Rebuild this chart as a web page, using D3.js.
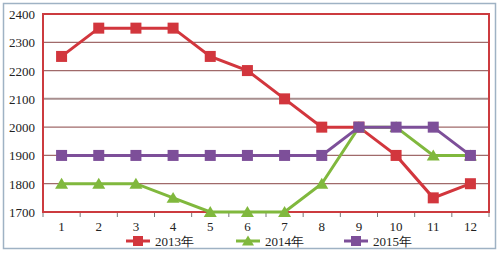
<!DOCTYPE html>
<html>
<head>
<meta charset="utf-8">
<script src="https://cdn.jsdelivr.net/npm/d3@7"></script>
<style>
  body { margin: 0; background: #fff; }
  text { font-family: "Liberation Serif", "DejaVu Serif", serif; font-size: 13px; fill: #222; }
</style>
</head>
<body>
<svg id="chart" width="500" height="253"></svg>
<script>
const months = [1, 2, 3, 4, 5, 6, 7, 8, 9, 10, 11, 12]
const yTicks = [1700, 1800, 1900, 2000, 2100, 2200, 2300, 2400]
const s2013 = [2250, 2350, 2350, 2350, 2250, 2200, 2100, 2000, 2000, 1900, 1750, 1800]
const s2014 = [1800, 1800, 1800, 1750, 1700, 1700, 1700, 1800, 2000, 2000, 1900, 1900]
const s2015 = [1900, 1900, 1900, 1900, 1900, 1900, 1900, 1900, 2000, 2000, 2000, 1900]

const series = [
    {name: '2013年', values: s2013, color: '#d2363d', shape: 'square'},
    {name: '2014年', values: s2014, color: '#80b83d', shape: 'triangle'},
    {name: '2015年', values: s2015, color: '#7d4f99', shape: 'square'}
]

const svg = d3.select('#chart')
const plotLeft = 43, plotRight = 489, plotTop = 14, plotBottom = 212

// outer frame
svg.append('rect')
    .attr('x', 3.5).attr('y', 3.5).attr('width', 492).attr('height', 245)
    .attr('fill', 'none').attr('stroke', '#9fb2c4').attr('stroke-width', 1.5)

const x = d3.scaleBand().domain(months).range([plotLeft, plotRight])
const y = d3.scaleLinear().domain([1700, 2400]).range([plotBottom, plotTop])

// grid
svg.append('g').selectAll('line')
    .data(yTicks.slice(1, -1))
    .enter().append('line')
        .attr('x1', plotLeft).attr('x2', plotRight)
        .attr('y1', (d) => y(d)).attr('y2', (d) => y(d))
        .attr('stroke', (d) => d === 2100 ? '#a88f8f' : '#a06a6a')
        .attr('stroke-width', (d) => d === 2100 ? 2 : 1.2)

// y labels
svg.append('g').selectAll('text')
    .data(yTicks)
    .enter().append('text')
        .attr('x', 35).attr('y', (d) => y(d) + 5)
        .attr('text-anchor', 'end')
        .text((d) => d)

// x axis ticks and labels
const xAxis = d3.axisBottom(x).tickSize(0).tickPadding(10)
const gx = svg.append('g').attr('transform', `translate(0,${plotBottom})`).call(xAxis)
gx.select('.domain').remove()
gx.selectAll('text').style('font-size', '13px').style('font-family', '"Liberation Serif", serif').attr('fill', '#222')
svg.append('g').selectAll('line')
    .data(months.concat([13]))
    .enter().append('line')
        .attr('x1', (d) => plotLeft + (d - 1) * x.step()).attr('x2', (d) => plotLeft + (d - 1) * x.step())
        .attr('y1', plotBottom).attr('y2', plotBottom + 5)
        .attr('stroke', '#777').attr('stroke-width', 1)

// plot border
svg.append('rect')
    .attr('x', plotLeft).attr('y', plotTop).attr('width', plotRight - plotLeft).attr('height', plotBottom - plotTop)
    .attr('fill', 'none').attr('stroke', '#cc3b3f').attr('stroke-width', 2)

const cx = (i) => x(months[i]) + x.bandwidth() / 2
const line = d3.line().x((d, i) => cx(i)).y((d) => y(d))

function marker(g, shape, color, px, py, size) {
    if (shape === 'square') {
        g.append('rect')
            .attr('x', px - size / 2).attr('y', py - size / 2)
            .attr('width', size).attr('height', size)
            .attr('fill', color)
    } else {
        const h = size * 0.9
        g.append('path')
            .attr('d', `M${px},${py - h / 2 - 1}L${px + size / 2 + 1},${py + h / 2}L${px - size / 2 - 1},${py + h / 2}Z`)
            .attr('fill', color)
    }
}

series.forEach((s) => {
    const g = svg.append('g')
    g.append('path')
        .attr('d', line(s.values))
        .attr('fill', 'none').attr('stroke', s.color).attr('stroke-width', 3)
    s.values.forEach((v, i) => marker(g, s.shape, s.color, cx(i), y(v), 11))
})

// legend
const legendX = [126, 236, 344]
series.forEach((s, i) => {
    const g = svg.append('g')
    const lx = legendX[i], ly = 241
    g.append('line')
        .attr('x1', lx).attr('x2', lx + 24).attr('y1', ly).attr('y2', ly)
        .attr('stroke', s.color).attr('stroke-width', 3)
    marker(g, s.shape, s.color, lx + 12, ly, 10)
    g.append('text').attr('x', lx + 29).attr('y', ly + 5).text(s.name)
})
</script>
</body>
</html>
